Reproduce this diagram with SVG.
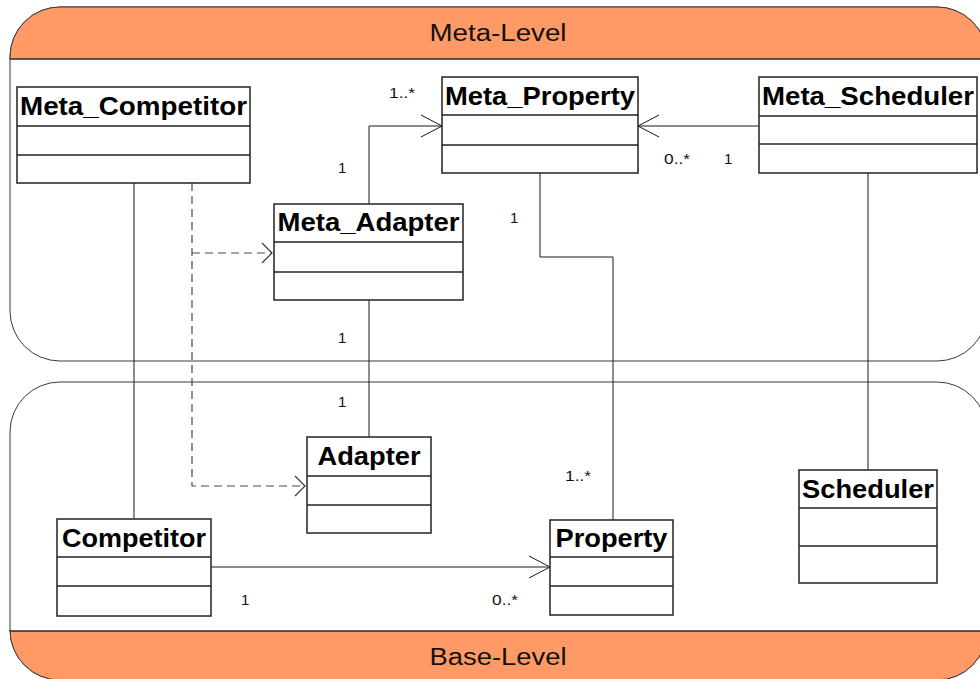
<svg xmlns="http://www.w3.org/2000/svg" width="980" height="679" viewBox="0 0 980 679">
  <style>
    .frame { fill: #ffffff; stroke: #3a3a3a; stroke-width: 1; }
    .band { fill: #ff9966; stroke: #3a3a3a; stroke-width: 1; }
    .sep { stroke: #222222; stroke-width: 1.2; }
    .level { font-family: "Liberation Sans", Arial, sans-serif; font-size: 23px; fill: #111111; text-anchor: middle; }
    .cls rect { fill: #ffffff; stroke: #222222; stroke-width: 1.5; }
    .cls line { stroke: #222222; stroke-width: 1.5; }
    .cls text { font-family: "Liberation Sans", Arial, sans-serif; font-weight: bold; font-size: 25px; fill: #000000; text-anchor: middle; }
    .assoc { fill: none; stroke: #1a1a1a; stroke-width: 1; }
    .dep { fill: none; stroke: #4a4a4a; stroke-width: 1.2; stroke-dasharray: 8 5; }
    .mult { font-family: "Liberation Sans", Arial, sans-serif; font-size: 15px; fill: #111111; }
  </style>
  <defs>
    <marker id="openArrow" markerUnits="userSpaceOnUse" markerWidth="24" markerHeight="24" refX="21" refY="11" orient="auto" overflow="visible">
      <path d="M0,0 L21,11 L0,22" fill="none" stroke="#1a1a1a" stroke-width="1"/>
    </marker>
    <marker id="depArrow" markerUnits="userSpaceOnUse" markerWidth="14" markerHeight="22" refX="10" refY="10" orient="auto" overflow="visible">
      <path d="M0,0 L10,10 L0,20" fill="none" stroke="#3a3a3a" stroke-width="1.2"/>
    </marker>
  </defs>

  <!-- Meta-Level container -->
  <g id="meta-level">
    <path class="frame" d="M10,57 A50,50 0 0 1 60,7 L937,7 A50,50 0 0 1 987,57 L987,311 A50,50 0 0 1 937,361 L60,361 A50,50 0 0 1 10,311 Z"/>
    <path class="band" d="M10,59 L10,57 A50,50 0 0 1 60,7 L937,7 A50,50 0 0 1 987,57 L987,59 Z"/>
    <line class="sep" x1="10" y1="59" x2="987" y2="59"/>
    <text class="level" x="498" y="41" textLength="137" lengthAdjust="spacingAndGlyphs">Meta-Level</text>
  </g>

  <!-- Base-Level container -->
  <g id="base-level">
    <path class="frame" d="M10,432 A50,50 0 0 1 60,382 L937,382 A50,50 0 0 1 987,432 L987,630 A50,50 0 0 1 937,680 L60,680 A50,50 0 0 1 10,630 Z"/>
    <path class="band" d="M10,631 L987,631 L987,630 A50,50 0 0 1 937,680 L60,680 A50,50 0 0 1 10,630 Z"/>
    <line class="sep" x1="10" y1="631" x2="987" y2="631"/>
    <text class="level" x="498" y="665" textLength="137" lengthAdjust="spacingAndGlyphs">Base-Level</text>
  </g>

  <!-- Connectors -->
  <g id="connectors">
    <!-- Meta_Competitor to Competitor -->
    <polyline class="assoc" points="134,183 134,519"/>
    <!-- Meta_Competitor dependencies -->
    <polyline class="dep" points="192,183 192,486 305,486" marker-end="url(#depArrow)"/>
    <polyline class="dep" points="192,253 272,253" marker-end="url(#depArrow)"/>
    <!-- Meta_Adapter to Meta_Property -->
    <polyline class="assoc" points="369,204 369,126 442,126" marker-end="url(#openArrow)"/>
    <!-- Meta_Scheduler to Meta_Property -->
    <polyline class="assoc" points="759,126 638,126" marker-end="url(#openArrow)"/>
    <!-- Meta_Adapter to Adapter -->
    <polyline class="assoc" points="369,300 369,437"/>
    <!-- Meta_Property to Property -->
    <polyline class="assoc" points="540,173 540,257 613,257 613,520"/>
    <!-- Meta_Scheduler to Scheduler -->
    <polyline class="assoc" points="868,173 868,470"/>
    <!-- Competitor to Property -->
    <polyline class="assoc" points="211,567 550,567" marker-end="url(#openArrow)"/>

    <!-- multiplicities -->
    <text class="mult" x="389" y="98" textLength="26" lengthAdjust="spacingAndGlyphs">1..*</text>
    <text class="mult" x="338" y="173">1</text>
    <text class="mult" x="510" y="223">1</text>
    <text class="mult" x="664" y="164" textLength="26" lengthAdjust="spacingAndGlyphs">0..*</text>
    <text class="mult" x="724" y="164">1</text>
    <text class="mult" x="338" y="343">1</text>
    <text class="mult" x="338" y="407">1</text>
    <text class="mult" x="565" y="481" textLength="26" lengthAdjust="spacingAndGlyphs">1..*</text>
    <text class="mult" x="492" y="605" textLength="26" lengthAdjust="spacingAndGlyphs">0..*</text>
    <text class="mult" x="241" y="605">1</text>
  </g>

  <!-- Classes -->
  <g id="Meta_Competitor" class="cls">
    <rect x="17" y="87" width="233" height="96"/>
    <line x1="17" y1="126" x2="250" y2="126"/>
    <line x1="17" y1="155" x2="250" y2="155"/>
    <text x="133.5" y="115" textLength="227" lengthAdjust="spacingAndGlyphs">Meta_Competitor</text>
  </g>

  <g id="Meta_Property" class="cls">
    <rect x="442" y="77" width="196" height="96"/>
    <line x1="442" y1="115" x2="638" y2="115"/>
    <line x1="442" y1="145" x2="638" y2="145"/>
    <text x="540" y="105" textLength="190" lengthAdjust="spacingAndGlyphs">Meta_Property</text>
  </g>

  <g id="Meta_Scheduler" class="cls">
    <rect x="759" y="77" width="218" height="96"/>
    <line x1="759" y1="116" x2="977" y2="116"/>
    <line x1="759" y1="144" x2="977" y2="144"/>
    <text x="868" y="105" textLength="212" lengthAdjust="spacingAndGlyphs">Meta_Scheduler</text>
  </g>

  <g id="Meta_Adapter" class="cls">
    <rect x="274" y="204" width="189" height="96"/>
    <line x1="274" y1="242" x2="463" y2="242"/>
    <line x1="274" y1="272" x2="463" y2="272"/>
    <text x="368.5" y="231" textLength="182" lengthAdjust="spacingAndGlyphs">Meta_Adapter</text>
  </g>

  <g id="Adapter" class="cls">
    <rect x="307" y="437" width="124" height="96"/>
    <line x1="307" y1="476" x2="431" y2="476"/>
    <line x1="307" y1="505" x2="431" y2="505"/>
    <text x="369" y="465" textLength="103" lengthAdjust="spacingAndGlyphs">Adapter</text>
  </g>

  <g id="Competitor" class="cls">
    <rect x="57" y="519" width="154" height="97"/>
    <line x1="57" y1="557" x2="211" y2="557"/>
    <line x1="57" y1="586" x2="211" y2="586"/>
    <text x="134" y="547" textLength="144" lengthAdjust="spacingAndGlyphs">Competitor</text>
  </g>

  <g id="Property" class="cls">
    <rect x="550" y="520" width="123" height="95"/>
    <line x1="550" y1="557" x2="673" y2="557"/>
    <line x1="550" y1="586" x2="673" y2="586"/>
    <text x="611.5" y="547" textLength="112" lengthAdjust="spacingAndGlyphs">Property</text>
  </g>

  <g id="Scheduler" class="cls">
    <rect x="799" y="470" width="138" height="113"/>
    <line x1="799" y1="508" x2="937" y2="508"/>
    <line x1="799" y1="546" x2="937" y2="546"/>
    <text x="868" y="498" textLength="132" lengthAdjust="spacingAndGlyphs">Scheduler</text>
  </g>
</svg>
